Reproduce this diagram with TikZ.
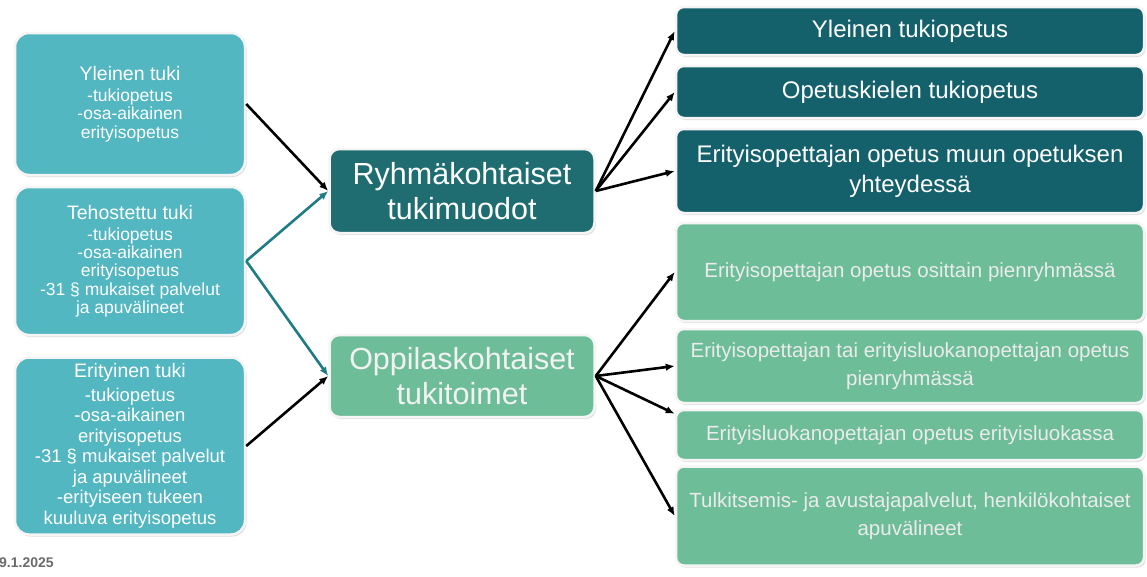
\documentclass[tikz,border=0pt]{standalone}
\usepackage{fontspec}
\setmainfont{Liberation Sans}
\usetikzlibrary{arrows.meta,shadows}
\definecolor{tukiLeft}{HTML}{52B7C1}
\definecolor{tukiMid}{HTML}{1F6D70}
\definecolor{tukiDeep}{HTML}{14606B}
\definecolor{tukiGreen}{HTML}{6DBD98}
\definecolor{tukiLine}{HTML}{1F7C84}
\newcommand{\tukiTitle}[1]{{\fontsize{19.5}{22}\selectfont #1}\\[3pt]}

\begin{document}
\begin{tikzpicture}[x=1pt, y=-1pt, >={Latex[length=9pt,width=7.5pt]},
  box/.style={draw=white!96!black, line width=2.5pt, text=white, align=center, inner sep=0pt,
    drop shadow={shadow xshift=1.5pt, shadow yshift=-2pt, opacity=0.25}},
  tuki/.style={box, fill=tukiLeft, rounded corners=14pt, minimum width=230pt,
    font=\fontsize{17.5}{18.3}\selectfont},
  muoto/.style={box, rounded corners=10pt, minimum width=265pt,
    font=\fontsize{30.5}{35}\selectfont},
  ryhma/.style={box, fill=tukiDeep, rounded corners=8pt, minimum width=468pt,
    font=\fontsize{24}{30}\selectfont},
  oppi/.style={box, fill=tukiGreen, rounded corners=8pt, minimum width=468pt,
    text=white!92!black, font=\fontsize{20.5}{28}\selectfont},
  link/.style={->, line width=2.6pt}]
  \path[use as bounding box, fill=white] (0,0) rectangle (1147,576);

  % tuen tasot
  \node[tuki, minimum height=142pt] (yleinen) at (130,104)
    {\tukiTitle{Yleinen tuki}-tukiopetus\\-osa-aikainen\\erityisopetus};
  \node[tuki, minimum height=148pt] (tehostettu) at (130,261)
    {\tukiTitle{Tehostettu tuki}-tukiopetus\\-osa-aikainen\\erityisopetus\\-31 § mukaiset palvelut\\ja apuvälineet};
  \node[tuki, minimum height=177pt, font=\fontsize{18.5}{20.5}\selectfont] (erityinen) at (130,446)
    {\tukiTitle{Erityinen tuki}-tukiopetus\\-osa-aikainen\\erityisopetus\\-31 § mukaiset palvelut\\ja apuvälineet\\-erityiseen tukeen\\kuuluva erityisopetus};

  % tukimuodot
  \node[muoto, fill=tukiMid, minimum height=84pt] (ryhma) at (462,191) {Ryhmäkohtaiset\\tukimuodot};
  \node[muoto, fill=tukiGreen, minimum height=82pt, text=white!95!black] (oppilas) at (462,376) {Oppilaskohtaiset\\tukitoimet};

  \node[ryhma, minimum height=48pt] (r1) at (910,31) {Yleinen tukiopetus};
  \node[ryhma, minimum height=52pt] (r2) at (910,92) {Opetuskielen tukiopetus};
  \node[ryhma, minimum height=84pt] (r3) at (910,171) {Erityisopettajan opetus muun opetuksen\\yhteydessä};

  \node[oppi, minimum height=98pt] (g1) at (910,272) {Erityisopettajan opetus osittain pienryhmässä};
  \node[oppi, minimum height=74pt] (g2) at (910,366) {Erityisopettajan tai erityisluokanopettajan opetus\\pienryhmässä};
  \node[oppi, minimum height=50pt] (g3) at (910,435) {Erityisluokanopettajan opetus erityisluokassa};
  \node[oppi, minimum height=99pt] (g4) at (910,516) {Tulkitsemis- ja avustajapalvelut, henkilökohtaiset\\apuvälineet};

  \node[anchor=west, inner sep=0pt, text=black!58, font=\bfseries\fontsize{14}{16}\selectfont] (pvm) at (-1,563) {9.1.2025};

  % nuolet
  \draw[link] (yleinen.east) -- (ryhma.west);
  \draw[link, tukiLine] (tehostettu.east) -- (ryhma.west);
  \draw[link, tukiLine] (tehostettu.east) -- (oppilas.west);
  \draw[link] (erityinen.east) -- (oppilas.west);

  \foreach \r in {r1,r2,r3}
    \draw[link] (ryhma.east) -- (\r.west);
  \foreach \g in {g1,g2,g4}
    \draw[link] (oppilas.east) -- (\g.west);
  \draw[link] (oppilas.east) -- ([yshift=-5pt]g3.north west);
\end{tikzpicture}
\end{document}
